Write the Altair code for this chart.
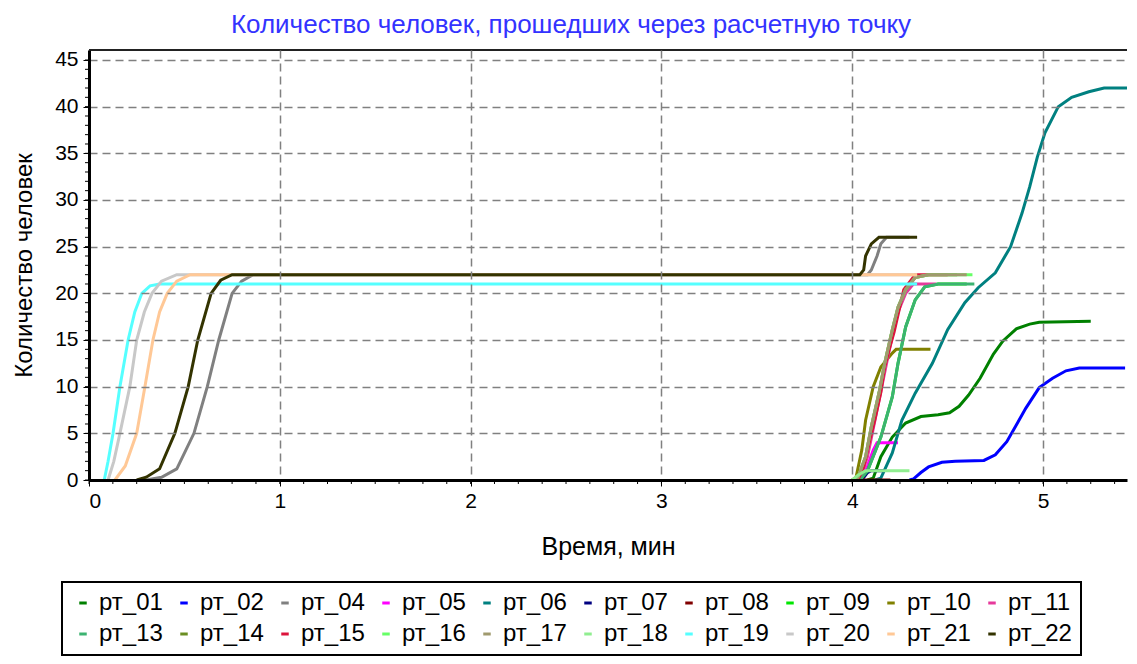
import altair as alt
import pandas as pd

FONT = "Liberation Sans"

SERIES = ["рт_01", "рт_02", "рт_04", "рт_05", "рт_06", "рт_07", "рт_08", "рт_09", "рт_10", "рт_11",
          "рт_13", "рт_14", "рт_15", "рт_16", "рт_17", "рт_18", "рт_19", "рт_20", "рт_21", "рт_22"]
COLORS = ["#008000", "#0000ff", "#808080", "#ff00ff", "#008080", "#000080", "#800000", "#00e600", "#808000", "#e6399b",
          "#3cb371", "#6b8e23", "#dc143c", "#66ff66", "#a09a6e", "#90ee90", "#55ffff", "#c8c8c8", "#ffc896", "#333300"]

# time (min) / count for each point
T01 = [4.08, 4.11, 4.15, 4.21, 4.28, 4.36, 4.45, 4.51, 4.56, 4.61, 4.67, 4.74, 4.79, 4.86, 4.93, 4.98, 5.25]
V01 = [0, 0.2, 2.5, 4.6, 6.1, 6.8, 7.0, 7.2, 7.9, 9.1, 10.9, 13.5, 14.9, 16.2, 16.7, 16.9, 17]
T02 = [4.30, 4.32, 4.36, 4.40, 4.47, 4.54, 4.69, 4.75, 4.81, 4.86, 4.91, 4.98, 5.05, 5.12, 5.19, 5.43]
V02 = [0, 0.1, 0.8, 1.4, 1.9, 2.0, 2.1, 2.7, 4.1, 5.9, 7.7, 9.9, 10.9, 11.7, 12.0, 12]
T04 = [0.30, 0.38, 0.46, 0.55, 0.62, 0.68, 0.75, 0.80, 0.86, 4.08, 4.10, 4.13, 4.15, 4.18, 4.30]
V04 = [0, 0.3, 1.2, 5, 10, 15, 20, 21.3, 22, 22, 22.5, 24, 25.3, 26, 26]
T05 = [4.05, 4.08, 4.11, 4.13, 4.24]
V05 = [0, 1.5, 3.2, 4, 4]
T06 = [4.12, 4.15, 4.21, 4.26, 4.33, 4.42, 4.50, 4.59, 4.66, 4.75, 4.83, 4.89, 4.93, 4.97, 5.01, 5.08, 5.15, 5.24, 5.32, 5.47]
V06 = [0, 0.2, 2.9, 6.4, 9.3, 12.5, 16.1, 19.0, 20.6, 22.2, 25.0, 28.6, 31.4, 34.6, 37.2, 40.0, 41.0, 41.6, 42, 42]
T07 = [4.05, 4.08, 4.10, 4.17]
V07 = [0, 0.8, 1, 1]
T08 = [4.00, 4.20]
V08 = [0, 0]
T09 = [4.04, 4.08, 4.15, 4.21, 4.24, 4.28, 4.33, 4.38, 4.45, 4.60]
V09 = [0, 1.0, 4.6, 8.9, 12.5, 16.4, 19.3, 20.7, 21, 21]
T10 = [4.00, 4.02, 4.05, 4.07, 4.11, 4.15, 4.21, 4.23, 4.41]
V10 = [0, 0.3, 3.2, 6.4, 10.0, 12.1, 13.6, 14, 14]
T11 = [4.04, 4.08, 4.12, 4.16, 4.20, 4.24, 4.28, 4.32, 4.44]
V11 = [0, 2.5, 6.5, 10.5, 14.5, 18, 20, 21, 21]
T13 = [4.04, 4.08, 4.15, 4.21, 4.24, 4.28, 4.33, 4.38, 4.45, 4.64]
V13 = [0, 1.0, 4.6, 8.9, 12.5, 16.4, 19.3, 20.7, 21, 21]
T14 = [4.00, 4.03, 4.07, 4.10, 4.14, 4.17, 4.21, 4.24, 4.28, 4.33, 4.40, 4.55]
V14 = [0, 0.3, 2.5, 5.7, 9.3, 12.5, 16.1, 18.5, 20.4, 21.7, 22, 22]
T15 = [4.03, 4.06, 4.09, 4.12, 4.15, 4.17, 4.19, 4.22, 4.27, 4.33, 4.50]
V15 = [0, 1.4, 4.1, 6.6, 9.4, 12.1, 13.7, 15.9, 20.4, 22, 22]
T16 = [4.00, 4.03, 4.07, 4.10, 4.14, 4.17, 4.21, 4.24, 4.28, 4.33, 4.40, 4.63]
V16 = [0, 0.3, 2.5, 5.7, 9.3, 12.5, 16.1, 18.5, 20.4, 21.7, 22, 22]
T17 = [4.00, 4.03, 4.07, 4.10, 4.14, 4.17, 4.21, 4.24, 4.28, 4.33, 4.40, 4.60]
V17 = [0, 0.3, 2.5, 5.7, 9.3, 12.5, 16.1, 18.5, 20.4, 21.7, 22, 22]
T18 = [4.00, 4.03, 4.07, 4.30]
V18 = [0, 0.5, 1, 1]
T19 = [0.08, 0.10, 0.126, 0.162, 0.205, 0.24, 0.277, 0.32, 0.37, 0.45, 4.34]
V19 = [0, 2, 5, 10, 15, 18, 20, 20.8, 21, 21, 21]
T20 = [0.10, 0.13, 0.162, 0.214, 0.25, 0.29, 0.33, 0.38, 0.46, 4.34]
V20 = [0, 2, 5, 10, 15, 18, 20, 21.3, 22, 22]
T21 = [0.136, 0.19, 0.25, 0.293, 0.335, 0.37, 0.41, 0.46, 0.53, 4.34]
V21 = [0, 1.5, 5, 10, 15, 18, 20, 21.3, 22, 22]
T22 = [0.25, 0.30, 0.37, 0.45, 0.52, 0.57, 0.64, 0.69, 0.75, 4.04, 4.06, 4.07, 4.10, 4.14, 4.34]
V22 = [0, 0.3, 1.2, 5, 10, 15, 20, 21.4, 22, 22, 22.5, 24, 25.3, 26, 26]

T_LIST = [T01, T02, T04, T05, T06, T07, T08, T09, T10, T11, T13, T14, T15, T16, T17, T18, T19, T20, T21, T22]
V_LIST = [V01, V02, V04, V05, V06, V07, V08, V09, V10, V11, V13, V14, V15, V16, V17, V18, V19, V20, V21, V22]

X_TICKS = [0, 1, 2, 3, 4, 5]
Y_TICKS = [0, 5, 10, 15, 20, 25, 30, 35, 40, 45]
X_MINOR = [i * 0.125 for i in range(44)]
Y_MINOR = list(range(46))

rows = []
for name, ts, vs in zip(SERIES, T_LIST, V_LIST):
    for i, (t, v) in enumerate(zip(ts, vs)):
        rows.append({"series": name, "t": t, "v": v, "i": i})
df = pd.DataFrame(rows)

W, H = 1038, 430
xscale = alt.Scale(domain=[0, 5.44], nice=False, zero=False)
yscale = alt.Scale(domain=[0, 46.07], nice=False, zero=False)

x_axis = alt.Axis(values=X_TICKS, format="d", title="Время, мин", zindex=1,
                  labelFont=FONT, labelFontSize=21, labelColor="black", labelPadding=4,
                  titleFont=FONT, titleFontSize=25, titleFontWeight="normal", titleColor="black",
                  titleY=74, titleBaseline="alphabetic",
                  tickSize=6, tickColor="black", domainColor="black", domainWidth=3,
                  grid=True, gridColor="#808080", gridDash=[8, 5], gridWidth=1.5)
y_axis = alt.Axis(values=Y_TICKS, format="d", title="Количество человек", zindex=1,
                  labelFont=FONT, labelFontSize=21, labelColor="black", labelPadding=5,
                  titleFont=FONT, titleFontSize=24, titleFontWeight="normal", titleColor="black",
                  titleX=-58, titleY=H / 2, titleBaseline="alphabetic",
                  tickSize=6, tickColor="black", domainColor="black", domainWidth=3,
                  grid=True, gridColor="#808080", gridDash=[8, 5], gridWidth=1.5)

X_ENC = alt.X("t:Q", scale=xscale, axis=x_axis)
Y_ENC = alt.Y("v:Q", scale=yscale, axis=y_axis)

lines = alt.Chart(df).mark_line(strokeWidth=3, clip=True).encode(
    x=X_ENC,
    y=Y_ENC,
    color=alt.Color("series:N", title=None,
                    scale=alt.Scale(domain=SERIES, range=COLORS),
                    legend=alt.Legend(orient="none", legendX=-27, legendY=532, columns=10,
                                      direction="horizontal", symbolType="stroke", symbolSize=56,
                                      symbolStrokeWidth=3, labelFont=FONT, labelFontSize=24,
                                      labelColor="black", labelOffset=4, columnPadding=9,
                                      rowPadding=7, padding=9, strokeColor="black",
                                      gridAlign="all")),
    order="i:Q",
)

yminor = alt.Chart(pd.DataFrame({"v": Y_MINOR})).mark_rule(color="black", strokeWidth=1).encode(
    y=Y_ENC,
    x=alt.value(-4), x2=alt.value(0),
)
xminor = alt.Chart(pd.DataFrame({"t": X_MINOR})).mark_rule(color="black", strokeWidth=1).encode(
    x=X_ENC,
    y=alt.value(H), y2=alt.value(H + 4),
)
topline = alt.Chart(pd.DataFrame({"a": [0]})).mark_rule(color="#222222", strokeWidth=2).encode(
    x=alt.value(0), x2=alt.value(W), y=alt.value(0),
)

chart = alt.layer(lines, yminor, xminor, topline).properties(
    width=W, height=H,
    autosize=alt.AutoSizeParams(type="none"),
    padding={"left": 81, "top": 42, "right": 2, "bottom": 176},
    title=alt.TitleParams("Количество человек, прошедших через расчетную точку",
                          font=FONT, fontSize=26, fontWeight="normal", color="#3333ff",
                          anchor="middle", dx=-37, offset=11),
).configure_view(stroke="transparent", strokeWidth=0).configure_legend(strokeWidth=2)

chart.save("out.html", embed_options={"renderer": "svg", "actions": False})
